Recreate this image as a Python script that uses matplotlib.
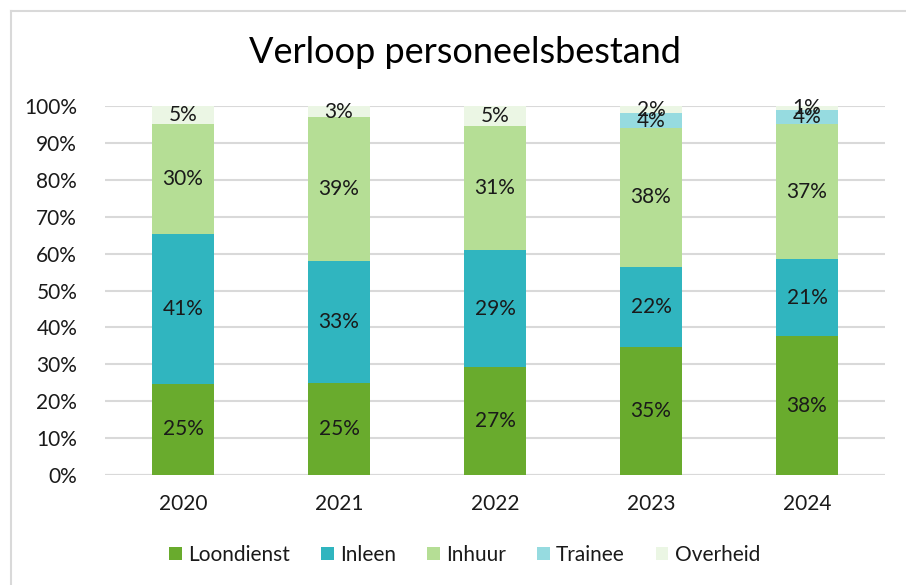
import matplotlib
matplotlib.use('Agg')
import matplotlib.pyplot as plt
from matplotlib.lines import Line2D
import numpy as np

years = ['2020', '2021', '2022', '2023', '2024']
series = ['Loondienst', 'Inleen', 'Inhuur', 'Trainee', 'Overheid']
loondienst = [25, 25, 27, 35, 38]
inleen = [41, 33, 29, 22, 21]
inhuur = [30, 39, 31, 38, 37]
trainee = [0, 0, 0, 4, 4]
overheid = [5, 3, 5, 2, 1]
colors = ['#69ab2d', '#30b5bf', '#b5de95', '#96dbe0', '#ebf6e4']

plt.rcParams['font.family'] = ['Lato', 'DejaVu Sans']

values = np.array([loondienst, inleen, inhuur, trainee, overheid], dtype=float)
totals = values.sum(axis=0)
shares = values / totals * 100

fig = plt.figure(figsize=(9.06, 5.85), dpi=100)
ax = fig.add_axes([0.1159, 0.188, 0.8609, 0.6308])

x = np.arange(len(years))
bottom = np.zeros(len(years))
for i, name in enumerate(series):
    ax.bar(x, shares[i], 0.4, bottom=bottom, color=colors[i], label=name, zorder=2)
    for j in range(len(years)):
        if values[i, j] > 0:
            ax.text(x[j], bottom[j] + shares[i, j] / 2, f'{int(values[i, j])}%',
                    ha='center', va='center', fontsize=15, color='#1a1a1a', zorder=3)
    bottom += shares[i]

ax.set_xlim(-0.5, 4.5)
ax.set_ylim(0, 100)
ax.set_yticks(range(0, 101, 10))
ax.set_yticklabels([f'{v}%' for v in range(0, 101, 10)])
ax.set_xticks(x)
ax.set_xticklabels(years)
ax.tick_params(axis='both', length=0, labelsize=15, labelcolor='#1a1a1a')
ax.tick_params(axis='x', pad=14)
ax.tick_params(axis='y', pad=20)
ax.grid(axis='y', color='#d9d9d9', linewidth=1.5, zorder=0)
for s in ax.spines.values():
    s.set_visible(False)
ax.axhline(0, color='#d9d9d9', linewidth=1.5, zorder=1)

fig.text(0.513, 0.91, 'Verloop personeelsbestand', ha='center', va='center',
         fontsize=26, color='#000000')

fig.legend(loc='center', bbox_to_anchor=(0.513, 0.052), ncol=5, frameon=False,
           fontsize=15, handlelength=0.6, handleheight=0.6, handletextpad=0.3,
           columnspacing=1.5, labelcolor='#1a1a1a')

fig.add_artist(Line2D([11 / 906, 11 / 906], [0, 1 - 11 / 585], transform=fig.transFigure,
                      color='#d9d9d9', linewidth=1.5))
fig.add_artist(Line2D([11 / 906, 1], [1 - 11 / 585, 1 - 11 / 585], transform=fig.transFigure,
                      color='#d9d9d9', linewidth=1.5))

fig.savefig('out.png', dpi=100)
